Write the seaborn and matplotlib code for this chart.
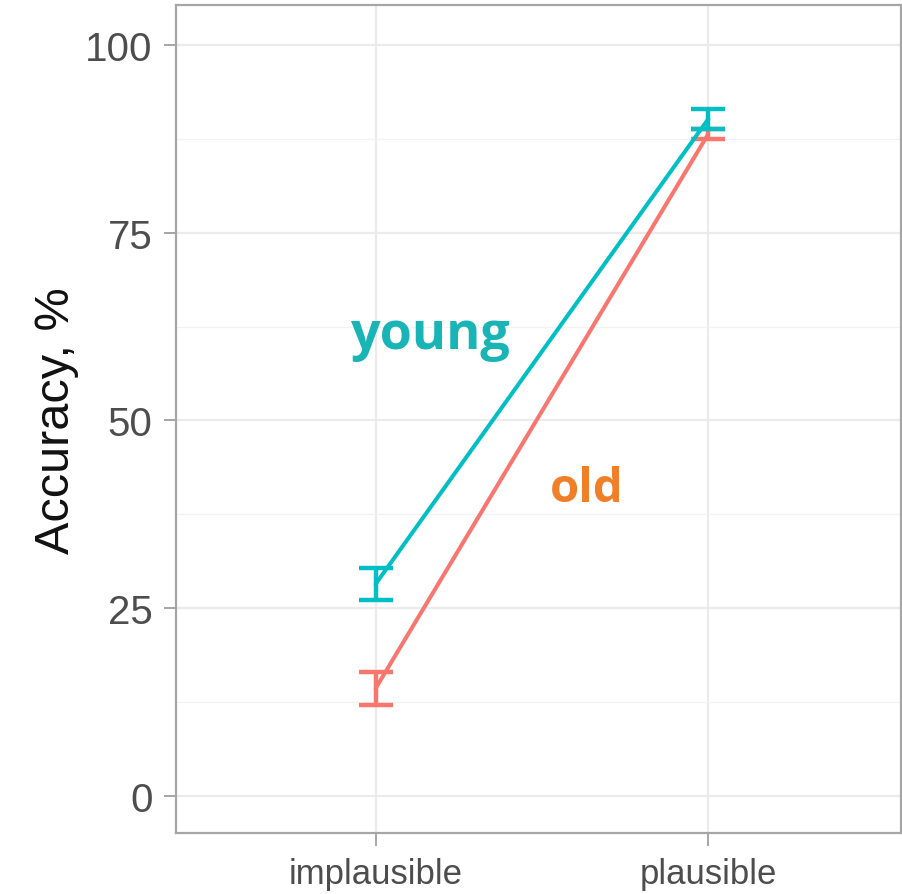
import numpy as np
import pandas as pd
import matplotlib
matplotlib.use("Agg")
import matplotlib.pyplot as plt
import seaborn as sns

# data
conditions = ["implausible", "plausible"]
groups = ["young", "old"]
young_mean = [28.2, 90.15]
young_err = [2.1, 1.35]
old_mean = [14.3, 88.15]
old_err = [2.2, 0.65]

line_colors = {"young": "#00BFC4", "old": "#F8766D"}
label_colors = {"young": "#19B4B6", "old": "#F07F27"}

df = pd.DataFrame({
    "condition": conditions * 2,
    "group": ["young"] * 2 + ["old"] * 2,
    "accuracy": young_mean + old_mean,
    "err": young_err + old_err,
})

sns.set_theme(style="white")
plt.rcParams["font.family"] = ["Liberation Sans", "DejaVu Sans"]

fig = plt.figure(figsize=(9.03, 8.95), dpi=100)
ax = fig.add_axes([0.195, 0.068, 0.803, 0.925])

# old first so young sits on top
for g in ["old", "young"]:
    sub = df[df["group"] == g]
    ax.errorbar(x=[0, 1], y=sub["accuracy"], yerr=sub["err"], fmt="none",
                ecolor=line_colors[g], elinewidth=3.2, capsize=12, capthick=3.2,
                zorder=3 if g == "old" else 5)

sns.lineplot(data=df, x="condition", y="accuracy", hue="group",
             hue_order=["old", "young"], palette=line_colors,
             linewidth=2.9, legend=False, ax=ax, zorder=4)

ax.set_xlim(-0.6, 1.58)
ax.set_ylim(-5, 105.3)
ax.set_yticks([0, 25, 50, 75, 100])
ax.set_yticks([12.5, 37.5, 62.5, 87.5], minor=True)
ax.set_xticks([0, 1])
ax.set_xticklabels(conditions)

ax.grid(True, which="major", color="#EBEBEB", linewidth=1.6, zorder=0)
ax.grid(True, which="minor", axis="y", color="#F2F2F2", linewidth=0.9, zorder=0)
ax.set_axisbelow(True)

for s in ax.spines.values():
    s.set_color("#A6A6A6")
    s.set_linewidth(1.6)

ax.tick_params(axis="both", which="major", length=9, width=1.4, color="#A6A6A6",
               labelcolor="#4D4D4D", pad=8, bottom=True, left=True)
ax.tick_params(axis="y", which="major", labelsize=29)
ax.tick_params(axis="x", which="major", labelsize=25)
ax.tick_params(axis="both", which="minor", length=0)

ax.set_xlabel("")
ax.set_ylabel("Accuracy, %", fontsize=35, color="#111111", labelpad=4)

ax.text(0.163, 59.6, "young", color=label_colors["young"], fontsize=37.5,
        fontweight="bold", family=["Open Sans", "DejaVu Sans"], ha="center", va="baseline")
ax.text(0.633, 39.2, "old", color=label_colors["old"], fontsize=34,
        fontweight="bold", family=["Open Sans", "DejaVu Sans"], ha="center", va="baseline")

fig.savefig("out.png", dpi=100)
